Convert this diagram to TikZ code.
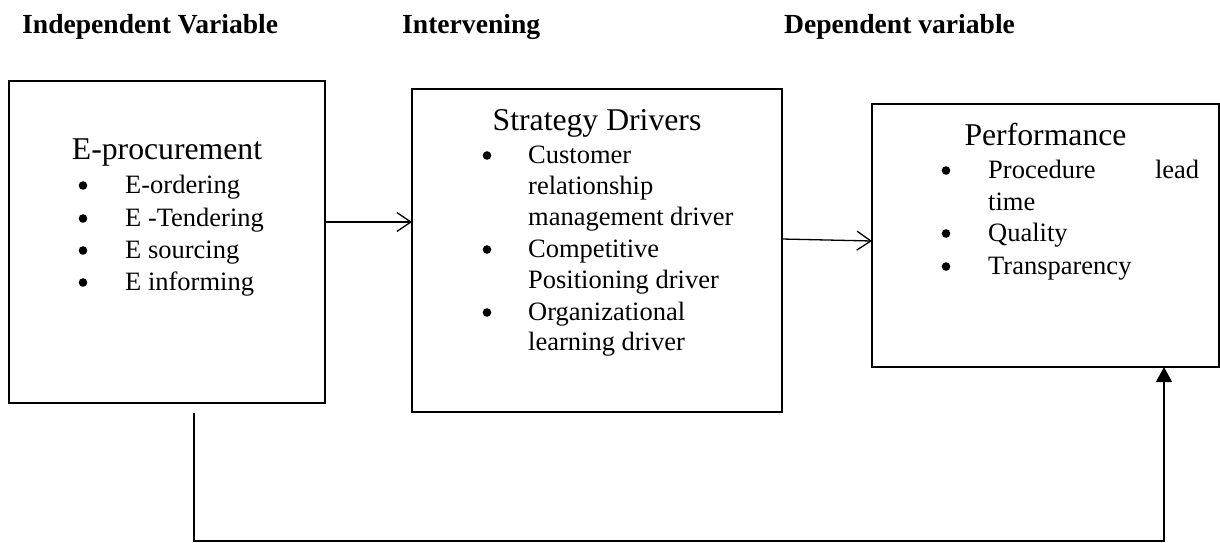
\documentclass[tikz,border=0pt]{standalone}
\usepackage{fontspec}
\setmainfont{Liberation Serif}
\usetikzlibrary{arrows.meta}
\begin{document}
\begin{tikzpicture}[x=1pt,y=-1pt,
  box/.style={draw, line width=1.4pt, inner sep=0pt, outer sep=0pt, anchor=north west},
  head/.style={anchor=base west, inner sep=0pt, font=\fontsize{27.6}{32}\selectfont\bfseries},
  title/.style={anchor=base, inner sep=0pt, font=\fontsize{31.7}{38}\selectfont},
  item/.style={anchor=base west, inner sep=0pt, font=\fontsize{26.5}{31}\selectfont},
  dot/.style={circle, fill, inner sep=0pt, minimum size=8.6pt, yshift=7.5pt},
  link/.style={line width=1.3pt},
  open/.style={link, -{Straight Barb[length=14pt,width=19pt,line width=1.3pt]}},
  solid head/.style={link, -{Triangle[length=15pt,width=16pt]}}]
\useasboundingbox (0,0) rectangle (1220,542);

% column headings
\node[head] (h1) at (22,33) {Independent Variable};
\node[head] (h2) at (402,33) {Intervening};
\node[head] (h3) at (784,33) {Dependent variable};

% the three boxes
\node[box, minimum width=316pt, minimum height=322pt] (b1) at (9,81) {};
\node[box, minimum width=370pt, minimum height=323pt] (b2) at (412,89) {};
\node[box, minimum width=347pt, minimum height=263pt] (b3) at (872,104) {};

% independent variable
\node[title] (t1) at (167,159) {E-procurement};
\node[dot] (d11) at (83,193) {};
\node[item] (i11) at (125,193) {E-ordering};
\node[dot] (d12) at (83,226) {};
\node[item] (i12) at (125,226) {E -Tendering};
\node[dot] (d13) at (83,258) {};
\node[item] (i13) at (125,258) {E sourcing};
\node[dot] (d14) at (83,290) {};
\node[item] (i14) at (125,290) {E informing};

% intervening variable
\node[title] (t2) at (597,130) {Strategy Drivers};
\node[dot] (d21) at (487,163) {};
\node[item] (i21a) at (528,163) {Customer};
\node[item] (i21b) at (528,194) {relationship};
\node[item] (i21c) at (528,225) {management driver};
\node[dot] (d22) at (487,257) {};
\node[item] (i22a) at (528,257) {Competitive};
\node[item] (i22b) at (528,288) {Positioning driver};
\node[dot] (d23) at (487,320) {};
\node[item] (i23a) at (528,320) {Organizational};
\node[item] (i23b) at (528,350) {learning driver};

% dependent variable
\node[title] (t3) at (1045.5,145) {Performance};
\node[dot] (d31) at (946,178) {};
\node[item] (i31a) at (988,178) {\makebox[211pt][s]{Procedure lead}};
\node[item] (i31b) at (988,210) {time};
\node[dot] (d32) at (946,241) {};
\node[item] (i32) at (988,241) {Quality};
\node[dot] (d33) at (946,274) {};
\node[item] (i33) at (988,274) {Transparency};

% connectors
\draw[open] ([yshift=20pt]b1.east) -- ([yshift=28.5pt]b2.west);
\draw[open] ([yshift=11.5pt]b2.east) -- ([yshift=-5.5pt]b3.west);
\coordinate (corner) at (1164,541);
\draw[solid head] ([xshift=27pt,yshift=-10pt]b1.south) |- (corner) -- (b3.south -| corner);
\end{tikzpicture}
\end{document}
